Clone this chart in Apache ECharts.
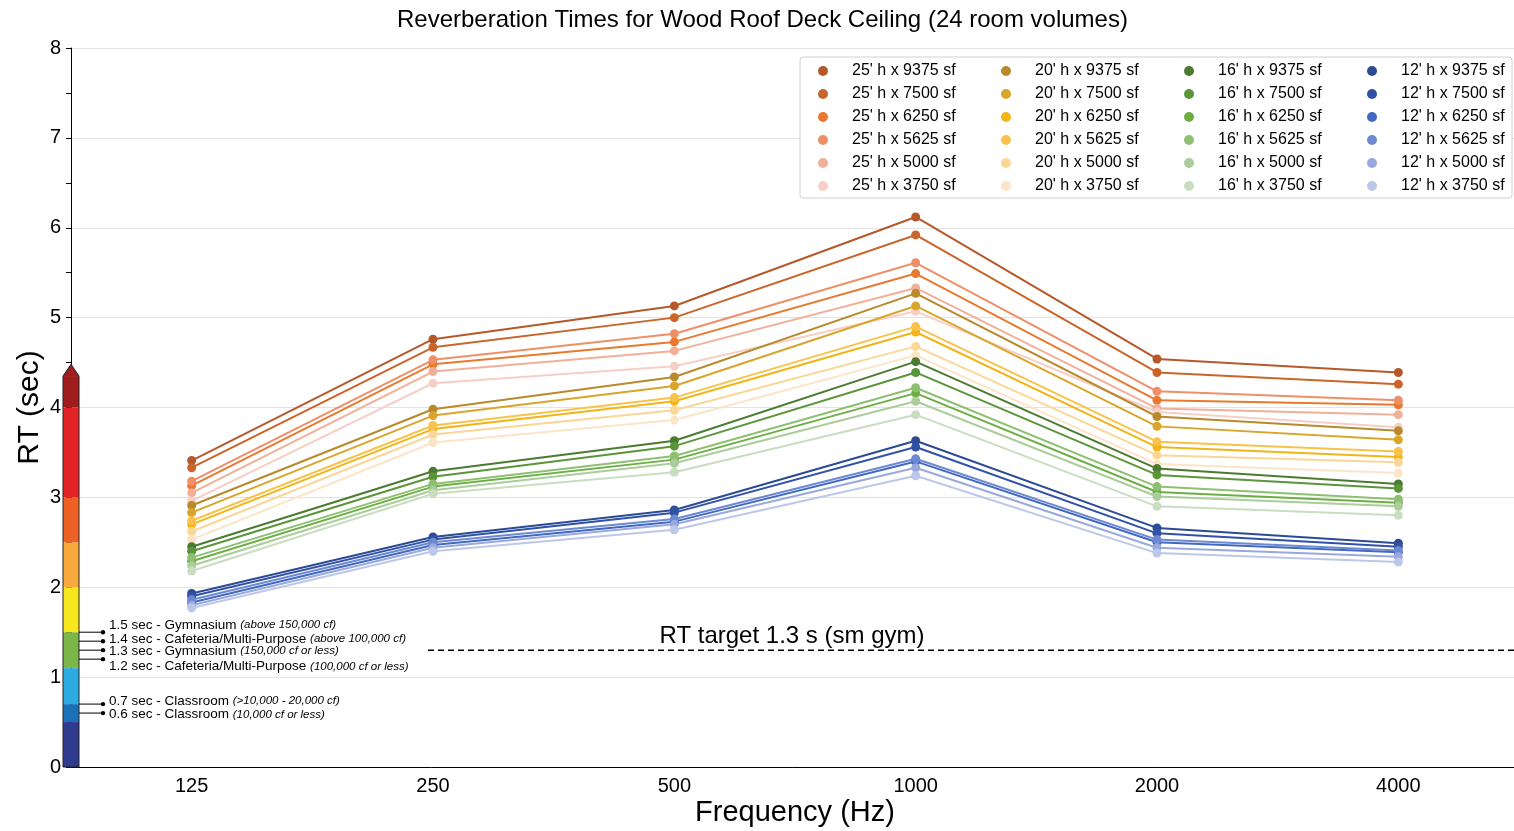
<!DOCTYPE html>
<html>
<head>
<meta charset="utf-8">
<script src="https://cdn.jsdelivr.net/npm/echarts@6/dist/echarts.min.js"></script>
<style>
html,body{margin:0;padding:0;background:#fff;overflow:hidden;}
#chart{width:1514px;height:831px;}
</style>
</head>
<body>
<div id="chart"></div>
<script>
// ---------- DATA ----------
const freqs = ['125', '250', '500', '1000', '2000', '4000'];
const heights = ["25'", "20'", "16'", "12'"];
const areas = ['9375', '7500', '6250', '5625', '5000', '3750'];

// RT (sec) per area (rows in order of `areas`), per frequency
const rt25 = [
  [3.41, 4.76, 5.13, 6.12, 4.54, 4.39],
  [3.33, 4.67, 5.00, 5.92, 4.39, 4.26],
  [3.13, 4.48, 4.73, 5.49, 4.08, 4.03],
  [3.18, 4.53, 4.82, 5.61, 4.18, 4.08],
  [3.05, 4.40, 4.63, 5.33, 3.99, 3.92],
  [2.96, 4.27, 4.46, 5.07, 3.95, 3.78]
];
const rt20 = [
  [2.91, 3.98, 4.34, 5.27, 3.90, 3.74],
  [2.83, 3.91, 4.24, 5.13, 3.79, 3.64],
  [2.70, 3.76, 4.07, 4.84, 3.56, 3.45],
  [2.74, 3.80, 4.11, 4.90, 3.62, 3.51],
  [2.62, 3.70, 3.97, 4.68, 3.47, 3.39],
  [2.53, 3.61, 3.86, 4.58, 3.37, 3.27]
];
const rt16 = [
  [2.45, 3.29, 3.63, 4.51, 3.32, 3.15],
  [2.40, 3.23, 3.57, 4.39, 3.25, 3.10],
  [2.29, 3.12, 3.42, 4.16, 3.06, 2.94],
  [2.33, 3.15, 3.46, 4.22, 3.12, 2.98],
  [2.24, 3.08, 3.38, 4.07, 3.01, 2.90],
  [2.18, 3.04, 3.28, 3.92, 2.90, 2.80]
];
const rt12 = [
  [1.93, 2.56, 2.86, 3.63, 2.66, 2.49],
  [1.90, 2.53, 2.83, 3.56, 2.60, 2.45],
  [1.83, 2.47, 2.73, 3.40, 2.50, 2.39],
  [1.86, 2.50, 2.76, 3.43, 2.53, 2.41],
  [1.80, 2.44, 2.70, 3.33, 2.44, 2.34],
  [1.77, 2.40, 2.64, 3.24, 2.38, 2.28]
];
const yTicks = [0, 1, 2, 3, 4, 5, 6, 7, 8];

// colour-scale bar (RT thresholds, sec)
const bandStops = [0, 0.5, 0.7, 1.1, 1.5, 2.0, 2.5, 3.0, 4.0, 4.35];
const bandTip = 4.48;

// guideline annotations
const guideValues = [1.5, 1.4, 1.3, 1.2, 0.7, 0.6];
const guideMain = [
  '1.5 sec - Gymnasium ',
  '1.4 sec - Cafeteria/Multi-Purpose ',
  '1.3 sec - Gymnasium ',
  '1.2 sec - Cafeteria/Multi-Purpose ',
  '0.7 sec - Classroom ',
  '0.6 sec - Classroom '
];
const guideNote = [
  '(above 150,000 cf)',
  '(above 100,000 cf)',
  '(150,000 cf or less)',
  '(100,000 cf or less)',
  '(>10,000 - 20,000 cf)',
  '(10,000 cf or less)'
];
const targetValue = 1.3;
const targetLabel = 'RT target 1.3 s (sm gym)';

// ---------- STYLE ----------
const palette = [
  ['#B5592B', '#C9652A', '#E8792F', '#EF8F68', '#F2AF9A', '#F6CFC7'],
  ['#B88A2B', '#D9A52A', '#F2B419', '#F8C24B', '#FAD697', '#FCE4C7'],
  ['#4B7B31', '#5B9539', '#6DAE45', '#8DC171', '#ABCD9B', '#C9DDC1'],
  ['#2B4B95', '#3151A9', '#4169C1', '#6D89D1', '#99A9DD', '#BDC7E9']
];
const bandColors = ['#2E3A8E', '#1C70B8', '#2BABE1', '#7AB648', '#F6E71F', '#F8A93B', '#EE6125', '#E32427', '#A01D1E'];
const guideNudge = [-7, -2, 1, 7.5, -3, 1.5];
const FONT = '"Liberation Sans", Arial, Helvetica, sans-serif';

const dataSets = [rt25, rt20, rt16, rt12];
const series = [];
const legends = [];
const legendLefts = [818, 1001, 1184, 1367];
heights.forEach((h, gi) => {
  const names = [];
  areas.forEach((a, ai) => {
    const name = h + ' h x ' + a + ' sf';
    names.push(name);
    series.push({
      name: name,
      type: 'line',
      data: dataSets[gi][ai],
      symbol: 'circle',
      symbolSize: 9,
      color: palette[gi][ai],
      lineStyle: { width: 2, color: palette[gi][ai] },
      itemStyle: { color: palette[gi][ai] },
      emphasis: { disabled: true },
      animation: false,
      z: 3
    });
  });
  legends.push({
    orient: 'vertical',
    left: legendLefts[gi],
    top: 63,
    padding: 0,
    itemWidth: 48,
    itemHeight: 10,
    itemGap: 7,
    icon: 'circle',
    selectedMode: false,
    data: names,
    textStyle: { fontFamily: FONT, fontSize: 16, color: '#000' }
  });
});

const chart = echarts.init(document.getElementById('chart'), null, { renderer: 'canvas' });
chart.setOption({
  animation: false,
  backgroundColor: '#fff',
  title: {
    text: 'Reverberation Times for Wood Roof Deck Ceiling (24 room volumes)',
    left: 397, top: 8, padding: 0,
    textStyle: { fontFamily: FONT, fontSize: 24, fontWeight: 'normal', color: '#000' }
  },
  legend: legends,
  grid: { left: 71, right: -5, top: 48, bottom: 64, containLabel: false, outerBoundsMode: 'none' },
  xAxis: {
    type: 'category',
    data: freqs,
    boundaryGap: true,
    name: 'Frequency (Hz)',
    nameLocation: 'middle',
    nameGap: 31,
    nameMoveOverlap: false,
    nameTextStyle: { fontFamily: FONT, fontSize: 29, color: '#000' },
    axisLine: { lineStyle: { color: '#000', width: 1 } },
    axisTick: { alignWithLabel: true, length: 5, lineStyle: { color: '#000' } },
    axisLabel: { fontFamily: FONT, fontSize: 20, color: '#000', margin: 9 },
    splitLine: { show: false }
  },
  yAxis: {
    type: 'value',
    min: yTicks[0], max: yTicks[yTicks.length - 1], interval: 1,
    name: 'RT (sec)',
    nameLocation: 'middle',
    nameGap: 26,
    nameMoveOverlap: false,
    nameRotate: 90,
    nameTextStyle: { fontFamily: FONT, fontSize: 30, color: '#000' },
    axisLine: { show: true, lineStyle: { color: '#000', width: 1 } },
    axisTick: { show: true, length: 5, lineStyle: { color: '#000' } },
    minorTick: { show: true, splitNumber: 2, length: 5, lineStyle: { color: '#000' } },
    axisLabel: { fontFamily: FONT, fontSize: 20, color: '#000', margin: 10 },
    splitLine: { show: true, lineStyle: { color: '#e3e3e3', width: 1 } }
  },
  series: series
});

// ---------- decorations positioned through the y scale ----------
function py(v) { return chart.convertToPixel({ yAxisIndex: 0 }, v); }
const barL = 63, barR = 79, barC = 71;
const g = [];
// legend frame
g.push({ type: 'rect', z: 0, shape: { x: 800, y: 57, width: 712, height: 141, r: 3 },
  style: { fill: '#fff', stroke: '#d0d0d0', lineWidth: 1 } });
// colour bar
for (let i = 0; i < bandColors.length; i++) {
  const y0 = py(bandStops[i]), y1 = py(bandStops[i + 1]);
  g.push({ type: 'rect', z: 50, shape: { x: barL, y: y1, width: barR - barL, height: y0 - y1 },
    style: { fill: bandColors[i], stroke: null } });
}
g.push({ type: 'polygon', z: 50,
  shape: { points: [[barL, py(bandStops[bandStops.length - 1])], [barC, py(bandTip)], [barR, py(bandStops[bandStops.length - 1])]] },
  style: { fill: bandColors[bandColors.length - 1] } });
g.push({ type: 'polygon', z: 51,
  shape: { points: [[barL, py(0)], [barL, py(bandStops[bandStops.length - 1])], [barC, py(bandTip)], [barR, py(bandStops[bandStops.length - 1])], [barR, py(0)]] },
  style: { fill: null, stroke: '#222', lineWidth: 1 } });
// guideline leaders + labels
guideValues.forEach((v, i) => {
  const y = py(v);
  g.push({ type: 'line', z: 52, shape: { x1: barR, y1: y, x2: 103, y2: y }, style: { stroke: '#000', lineWidth: 1 } });
  g.push({ type: 'circle', z: 52, shape: { cx: 103, cy: y, r: 2.2 }, style: { fill: '#000' } });
  g.push({ type: 'text', z: 52, x: 109, y: y + guideNudge[i],
    style: {
      text: '{a|' + guideMain[i] + '}{b|' + guideNote[i] + '}',
      verticalAlign: 'middle', align: 'left',
      rich: {
        a: { fontFamily: FONT, fontSize: 13.5, fill: '#000' },
        b: { fontFamily: FONT, fontSize: 11.5, fontStyle: 'italic', fill: '#000' }
      }
    } });
});
// target line
const ty = py(targetValue);
g.push({ type: 'line', z: 10, shape: { x1: 428, y1: ty, x2: 1514, y2: ty },
  style: { stroke: '#000', lineWidth: 1.5, lineDash: [6, 4] } });
g.push({ type: 'text', z: 10, x: 792, y: ty - 14,
  style: { text: targetLabel, fontFamily: FONT, fontSize: 24, fill: '#000', align: 'center', verticalAlign: 'middle' } });
chart.setOption({ graphic: g });
</script>
</body>
</html>
